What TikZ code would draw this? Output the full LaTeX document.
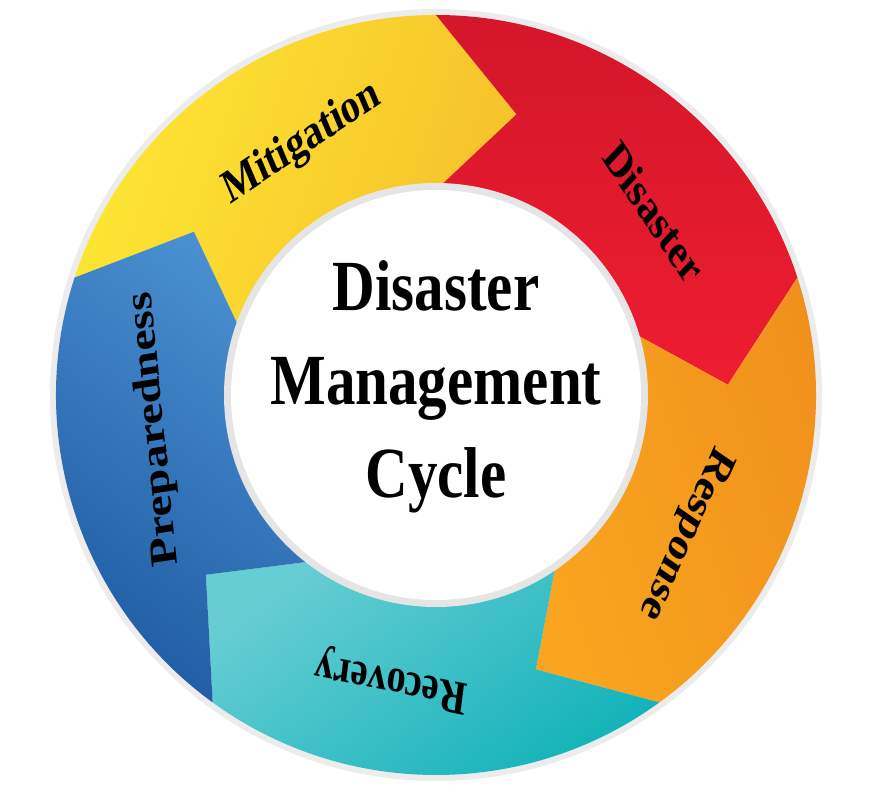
\documentclass[tikz,border=0pt]{standalone}
\usepackage{fontspec}
\setmainfont{Liberation Serif}
\begin{document}
\begin{tikzpicture}[x=0.75pt,y=0.75pt,
  lbl/.style={font=\bfseries\fontsize{36}{36}\selectfont,xscale=0.8}]
\useasboundingbox (0,0) rectangle (876,796);
\definecolor{cyel}{HTML}{FDE733}\definecolor{cyel2}{HTML}{F6C12A}
\definecolor{cred}{HTML}{EE1D30}\definecolor{cred2}{HTML}{D4162B}
\definecolor{cora}{HTML}{F9A51F}\definecolor{cora2}{HTML}{F0901C}
\definecolor{cteal}{HTML}{66CDD3}\definecolor{cteal2}{HTML}{0FB2B8}
\definecolor{cblue}{HTML}{4A90D0}\definecolor{cblue2}{HTML}{1E5AA2}
\begin{scope}[shift={(436,401)}]
\fill[gray!15] (0,0) circle (386);
\newcommand\seg[4]{%
  \shade[left color=#3,right color=#4,shading angle=#1+90]
   (#1:380) arc[start angle=#1,end angle=#2,radius=380] -- (#2-16:292)
   -- (#2:205) arc[start angle=#2,end angle=#1,radius=205] -- (#1-16:292) -- cycle;}
\seg{162}{90}{cyel2}{cyel}
\seg{90}{18}{cred}{cred2}
\seg{18}{-54}{cora}{cora2}
\seg{-54}{-126}{cteal}{cteal2}
\seg{234}{162}{cblue}{cblue2}
\fill[black!10] (0,0) circle (212);
\fill[white] (0,0) circle (205);
\node[lbl] (mit) at (118:285) [rotate=28] {Mitigation};
\node[lbl] (dis) at (40:285) [rotate=-50] {Disaster};
\node[lbl] (res) at (-29:285) [rotate=-119] {Response};
\node[lbl] (rec) at (-99:288) [rotate=171] {Recovery};
\node[lbl] (pre) at (-173:283) [rotate=97] {Preparedness};
\node[align=center,font=\bfseries\fontsize{54}{70}\selectfont,xscale=0.82] (c) at (0,8) {Disaster\\Management\\Cycle};
\end{scope}
\end{tikzpicture}
\end{document}
